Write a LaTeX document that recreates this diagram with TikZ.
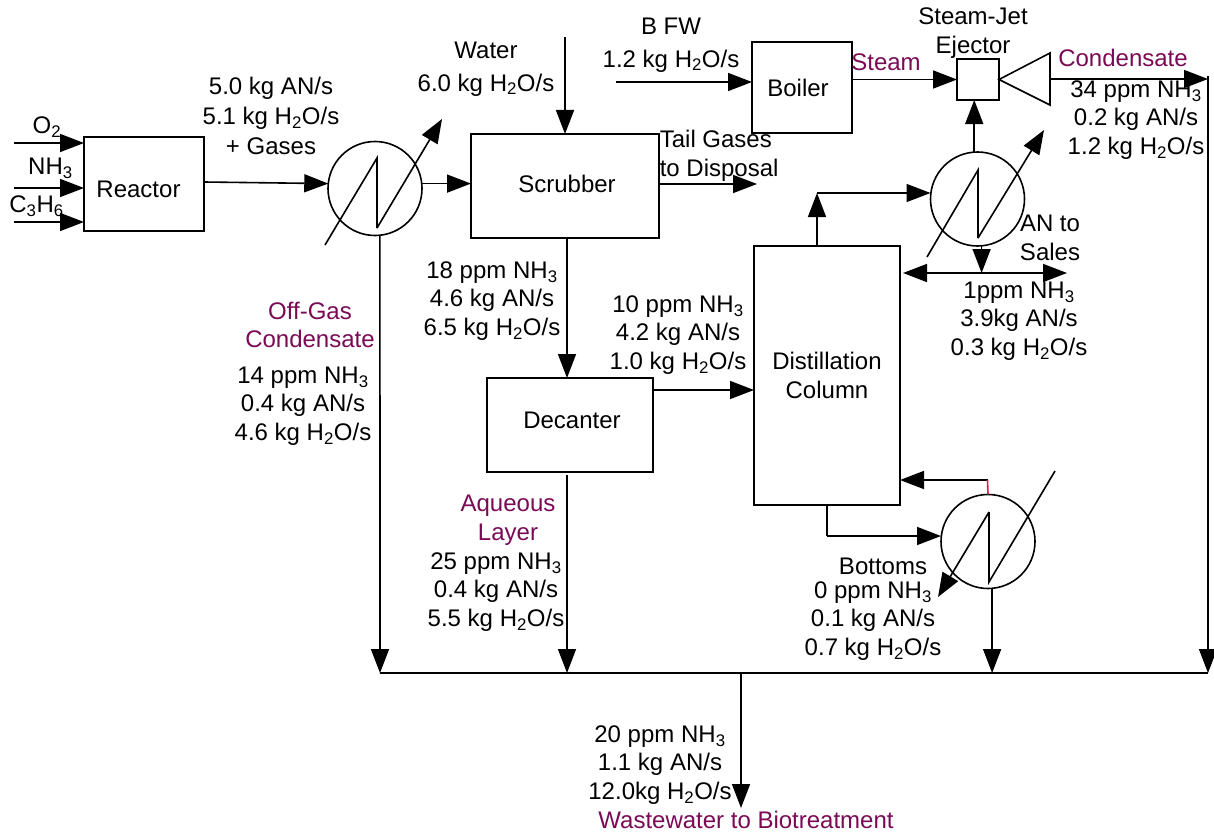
\documentclass[tikz,border=0pt]{standalone}
\usepackage{fontspec}
\setmainfont{Liberation Sans}
\usetikzlibrary{arrows.meta}
\definecolor{streamname}{HTML}{7A0A55}
\definecolor{stubred}{HTML}{E8174B}

\tikzset{
  unitbox/.style={draw,rectangle,inner sep=0pt,outer sep=0pt},
  exchanger/.style={draw,circle,minimum size=94pt,inner sep=0pt,outer sep=0pt},
  stream/.style={inner sep=0pt,align=center},
  streamtitle/.style={stream,text=streamname}
}

\begin{document}
\begin{tikzpicture}[x=1pt,y=-1pt,line width=1.6pt,
    >={Triangle[length=24pt,width=18pt]},
    every node/.append style={font=\fontsize{24}{28.5}\selectfont}]
  \useasboundingbox (0,0) rectangle (1214,832);

  % units
  \node[unitbox,minimum width=120pt,minimum height=94pt,text height=27pt] (reactor) at (144,184) {Reactor\kern11pt};
  \node[unitbox,minimum width=188pt,minimum height=104pt] (scrubber) at (565,186) {\raisebox{4pt}{\kern4pt Scrubber}};
  \node[unitbox,minimum width=100pt,minimum height=91pt] (boiler) at (802,87.5) {Boiler\kern8pt};
  \node[unitbox,minimum width=42pt,minimum height=41pt] (ejector) at (978,79.5) {};
  \node[unitbox,minimum width=166pt,minimum height=94pt] (decanter) at (570,425) {\raisebox{10pt}{\kern4pt Decanter}};
  \node[unitbox,minimum width=146pt,minimum height=259pt,align=center] (column) at (827,375.5) {Distillation\\Column};

  \node[exchanger] (ex1) at (375,188.5) {};
  \node[exchanger] (ex2) at (977.5,199) {};
  \node[exchanger] (ex3) at (988,541.5) {};

  \draw (325,245) -- (377,158) -- (377,228);
  \draw[->] (377,228) -- (442,119);
  \draw (927,257) -- (978,170) -- (978,238);
  \draw[->] (978,238) -- (1044,130);
  \draw (1055,471) -- (989,582) -- (989,512);
  \draw[->] (989,512) -- (938,597);

  \coordinate (diffuser) at (1050,79);
  \draw (ejector.east) -- (1050,53) -- (1050,105) -- cycle;

  % free ends
  \coordinate (o2in) at (14,143);
  \coordinate (nh3in) at (14,188);
  \coordinate (c3h6in) at (14,222);
  \coordinate (waterin) at (565,37);
  \coordinate (bfwin) at (616,82);
  \coordinate (tailout) at (757,184);
  \coordinate (busW) at (380,673);
  \coordinate (busE) at (1208,673);
  \coordinate (busOut) at (741,808);
  \coordinate (salesW) at (903,273);
  \coordinate (salesE) at (1067,273);
  \coordinate (condTop) at (1208,76);
  \coordinate (overhead) at (817,193);
  \coordinate (bottomsTurn) at (827,536);
  \coordinate (refluxEnd) at (987.5,480);
  \coordinate (decantDrop) at (567,475);

  % streams
  \draw[->] (o2in) -- (o2in -| reactor.west);
  \draw[->] (nh3in) -- (nh3in -| reactor.west);
  \draw[->] (c3h6in) -- (c3h6in -| reactor.west);
  \draw[->] ([yshift=2pt]reactor.east) -- (ex1.174);
  \draw[->] (ex1.6) -- (ex1.6 -| scrubber.west);
  \draw[->] (waterin) -- (waterin |- scrubber.north);
  \draw[->] (bfwin) -- (bfwin -| boiler.west);
  \draw[->] (ejector.west -| boiler.east) -- (ejector.west);
  \draw[->] (diffuser) -- (diffuser -| condTop);
  \draw[->] (condTop) -- (busE);
  \draw[->] (tailout -| scrubber.east) -- (tailout);
  \draw[->] (scrubber.south -| decantDrop) -- (decanter.north -| decantDrop);
  \draw[->] (decanter.east |- 0,390) -- (column.west |- 0,390);
  \draw[->] (decantDrop) -- (decantDrop |- busW);
  \draw[->] (column.north -| overhead) -- (overhead);
  \draw[->] (overhead) -- (overhead -| ex2.west);
  \draw[->] (ex2.94) -- (ex2.94 |- ejector.south);
  \draw[->] (ex2.275) -- (ex2.275 |- salesE);
  \draw[<->] (salesW) -- (salesE);
  \draw[->] (refluxEnd) -- (refluxEnd -| column.east);
  \draw[stubred] (refluxEnd) -- (ex3.north);
  \draw (column.south -| bottomsTurn) -- (bottomsTurn);
  \draw[->] (bottomsTurn) -- (bottomsTurn -| ex3.west);
  \draw[->] (ex3.275) -- (ex3.275 |- busE);
  \draw[->] (ex1.276) -- (busW);
  \draw (busW) -- (busE);
  \draw[->] (busOut |- busW) -- (busOut);

  % labels
  \node[stream] (lo2) at (47,127) {O\textsubscript{2}};
  \node[stream] (lnh3) at (50.5,168) {NH\textsubscript{3}};
  \node[stream] (lc3h6) at (36.5,206) {C\textsubscript{3}H\textsubscript{6}};
  \node[stream] (lreactor) at (271,116) {5.0 kg AN/s\\[1.5pt]5.1 kg H\textsubscript{2}O/s\\[1.5pt]+ Gases};
  \node[stream] (lwater) at (486,69) {Water\\[4pt]6.0 kg H\textsubscript{2}O/s};
  \node[stream] (lbfw) at (671,45) {B FW\\[4pt]1.2 kg H\textsubscript{2}O/s};
  \node[streamtitle] (lsteam) at (886,62) {Steam};
  \node[stream] (lejector) at (973,33) {Steam-Jet\\Ejector};
  \node[streamtitle] (lcond) at (1123,58) {Condensate};
  \node[stream] (lcondflow) at (1136,120) {34 ppm NH\textsubscript{3}\\0.2 kg AN/s\\1.2 kg H\textsubscript{2}O/s};
  \node[stream,align=left,anchor=west] (ltail) at (659,156) {Tail Gases\\to Disposal};
  \node[stream] (lsales) at (1050,238) {AN to\\Sales};
  \node[stream] (lsalesflow) at (1019,321) {1ppm NH\textsubscript{3}\\3.9kg AN/s\\0.3 kg H\textsubscript{2}O/s};
  \node[stream] (lscrub) at (492,301) {18 ppm NH\textsubscript{3}\\4.6 kg AN/s\\6.5 kg H\textsubscript{2}O/s};
  \node[stream] (ldecant) at (678,335) {10 ppm NH\textsubscript{3}\\4.2 kg AN/s\\1.0 kg H\textsubscript{2}O/s};
  \node[streamtitle] (loffgas) at (310,325) {Off-Gas\\Condensate};
  \node[stream] (loffflow) at (303,406) {14 ppm NH\textsubscript{3}\\0.4 kg AN/s\\4.6 kg H\textsubscript{2}O/s};
  \node[streamtitle] (laq) at (508,520) {Aqueous\\Layer};
  \node[stream] (laqflow) at (496,592) {25 ppm NH\textsubscript{3}\\0.4 kg AN/s\\5.5 kg H\textsubscript{2}O/s};
  \node[stream] (lbot) at (883,566) {Bottoms};
  \node[stream] (lbotflow) at (873,621) {0 ppm NH\textsubscript{3}\\0.1 kg AN/s\\0.7 kg H\textsubscript{2}O/s};
  \node[stream] (lout) at (660,765) {20 ppm NH\textsubscript{3}\\1.1 kg AN/s\\12.0kg H\textsubscript{2}O/s};
  \node[streamtitle] (lwaste) at (746,820) {Wastewater to Biotreatment};
\end{tikzpicture}
\end{document}
